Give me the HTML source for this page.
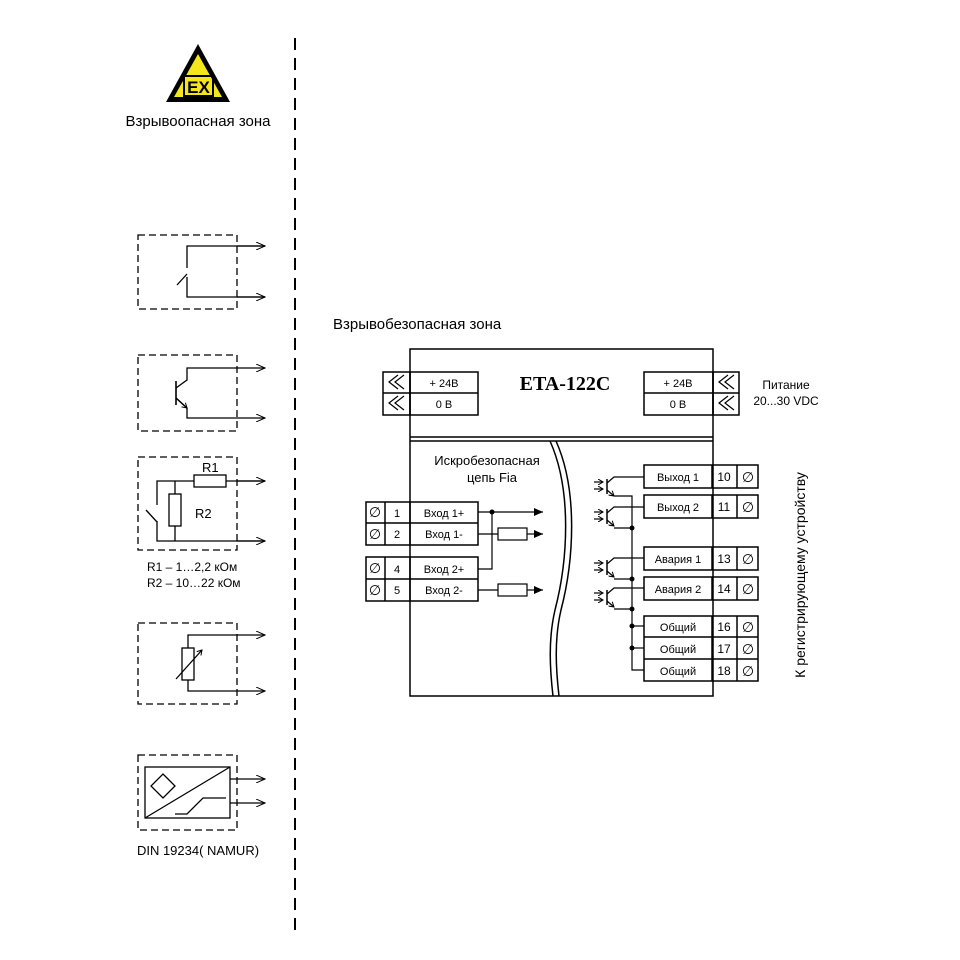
<!DOCTYPE html>
<html><head><meta charset="utf-8"><style>
html,body{margin:0;padding:0;background:#fff}
svg{display:block}
text{font-family:"Liberation Sans","DejaVu Sans",sans-serif;fill:#000}
</style></head><body>
<svg width="960" height="960" viewBox="0 0 960 960" xmlns="http://www.w3.org/2000/svg">
<defs>
<marker id="ar" markerWidth="10" markerHeight="8" refX="9" refY="4" orient="auto" markerUnits="userSpaceOnUse"><path d="M0,0 L9,4 L0,8" fill="none" stroke="#000" stroke-width="1"/></marker>
<marker id="af" markerWidth="10" markerHeight="8" refX="9" refY="4" orient="auto" markerUnits="userSpaceOnUse"><path d="M0,0 L9,4 L0,8z" fill="#000"/></marker>
<marker id="sa" markerWidth="6" markerHeight="6" refX="5" refY="3" orient="auto" markerUnits="userSpaceOnUse"><path d="M0,0 L5,3 L0,6" fill="none" stroke="#000" stroke-width="1"/></marker>
</defs>
<g stroke="#000" fill="none" stroke-width="1.3">
<line x1="295" y1="38" x2="295" y2="935" stroke-dasharray="12,8" stroke-width="2"/>
</g>
<polygon points="198,44 166,102 230,102" fill="#000"/>
<polygon points="198,54 174,97 222,97" fill="#f4e61a"/>
<rect x="184" y="76" width="29" height="20" fill="none" stroke="#000" stroke-width="2"/>
<text x="198.5" y="93" font-size="17" font-weight="bold" text-anchor="middle">EX</text>
<text x="198" y="126" font-size="15" text-anchor="middle">Взрывоопасная зона</text>

<g stroke="#000" fill="none" stroke-width="1.3">
<rect x="138" y="235" width="99" height="74" stroke-dasharray="7,4"/>
<path d="M265,246 H187 V268 M177,285 L187,274 M187,277 V297 H265" />
<line x1="237" y1="246" x2="265" y2="246" marker-end="url(#ar)"/>
<line x1="237" y1="297" x2="265" y2="297" marker-end="url(#ar)"/>
<rect x="138" y="355" width="99" height="76" stroke-dasharray="7,4"/>
<line x1="176" y1="381" x2="176" y2="405" stroke-width="1.6"/>
<path d="M176,388 L187,380 V368 H237 M176,398 L187,408 V418 H237"/>
<line x1="176" y1="398" x2="187" y2="408" marker-end="url(#sa)"/>
<line x1="237" y1="368" x2="265" y2="368" marker-end="url(#ar)"/>
<line x1="237" y1="418" x2="265" y2="418" marker-end="url(#ar)"/>
<rect x="138" y="457" width="99" height="93" stroke-dasharray="7,4"/>
<path d="M265,481 H226 M194,481 H157 V505 M146,510 L157,522 M157,521 V541 H265"/>
<rect x="194" y="475" width="32" height="12"/>
<rect x="169" y="494" width="12" height="32"/>
<line x1="175" y1="481" x2="175" y2="494"/><line x1="175" y1="526" x2="175" y2="541"/>
<line x1="237" y1="481" x2="265" y2="481" marker-end="url(#ar)"/>
<line x1="237" y1="541" x2="265" y2="541" marker-end="url(#ar)"/>
<rect x="138" y="623" width="99" height="81" stroke-dasharray="7,4"/>
<path d="M237,635 H188 V648 M188,680 V691 H237"/>
<rect x="182" y="648" width="12" height="32"/>
<line x1="176" y1="679" x2="202" y2="650" marker-end="url(#sa)"/>
<line x1="237" y1="635" x2="265" y2="635" marker-end="url(#ar)"/>
<line x1="237" y1="691" x2="265" y2="691" marker-end="url(#ar)"/>
<rect x="138" y="755" width="99" height="75" stroke-dasharray="7,4"/>
<rect x="145" y="767" width="85" height="51"/>
<line x1="145" y1="818" x2="230" y2="767"/>
<polygon points="163,774 175,786 163,798 151,786"/>
<path d="M175,814 H187 L203,798 H226"/>
<line x1="230" y1="779" x2="265" y2="779" marker-end="url(#ar)"/>
<line x1="230" y1="803" x2="265" y2="803" marker-end="url(#ar)"/>
</g>
<text x="147" y="571" font-size="12">R1 –  1…2,2 кОм</text>
<text x="147" y="587" font-size="12">R2 –  10…22 кОм</text>
<text x="202" y="472" font-size="13">R1</text>
<text x="195" y="518" font-size="13">R2</text>
<text x="198" y="855" font-size="13" text-anchor="middle">DIN 19234( NAMUR)</text>

<text x="333" y="329" font-size="15">Взрывобезопасная зона</text>

<g stroke="#000" fill="none" stroke-width="1.5">
<rect x="410" y="349" width="303" height="347"/>
<line x1="410" y1="437" x2="713" y2="437"/>
<line x1="410" y1="441" x2="713" y2="441"/>
<path d="M550,441 C572,490 568,560 555,610 C548,640 550,670 553,696"/>
<path d="M556,441 C578,490 574,560 561,610 C554,640 556,670 559,696"/>
<rect x="383" y="372" width="27" height="43"/><line x1="383" y1="393" x2="478" y2="393"/>
<rect x="410" y="372" width="68" height="43"/>
<rect x="644" y="372" width="69" height="43"/><line x1="644" y1="393" x2="739" y2="393"/>
<rect x="713" y="372" width="26" height="43"/>
</g>
<g fill="none" stroke="#000" stroke-width="1.2">
<path d="M398,375 L389,382 L398,389 M404,375 L395,382 L404,389"/>
<path d="M398,396 L389,403 L398,410 M404,396 L395,403 L404,410"/>
<path d="M728,375 L719,382 L728,389 M734,375 L725,382 L734,389"/>
<path d="M728,396 L719,403 L728,410 M734,396 L725,403 L734,410"/>
</g>
<text x="444" y="387" font-size="11" text-anchor="middle">+ 24B</text>
<text x="444" y="408" font-size="11" text-anchor="middle">0 B</text>
<text x="678" y="387" font-size="11" text-anchor="middle">+ 24B</text>
<text x="678" y="408" font-size="11" text-anchor="middle">0 B</text>
<text x="565" y="390" font-size="20" font-weight="bold" text-anchor="middle" style="font-family:'Liberation Serif',serif">ETA-122C</text>
<text x="786" y="389" font-size="12" text-anchor="middle">Питание</text>
<text x="786" y="405" font-size="12" text-anchor="middle">20...30 VDC</text>
<text x="487" y="465" font-size="13" text-anchor="middle">Искробезопасная</text>
<text x="492" y="482" font-size="13" text-anchor="middle">цепь Fia</text>

<g stroke="#000" fill="none" stroke-width="1.5">
<rect x="366" y="502" width="112" height="43"/><line x1="366" y1="523" x2="478" y2="523"/>
<line x1="385" y1="502" x2="385" y2="545"/><line x1="410" y1="502" x2="410" y2="545"/>
<rect x="366" y="557" width="112" height="44"/><line x1="366" y1="579" x2="478" y2="579"/>
<line x1="385" y1="557" x2="385" y2="601"/><line x1="410" y1="557" x2="410" y2="601"/>
</g>
<g stroke="#000" fill="none" stroke-width="1.2">
<line x1="478" y1="512" x2="543" y2="512" marker-end="url(#af)"/>
<path d="M492,512 V569 H478"/>
<line x1="478" y1="534" x2="498" y2="534"/><rect x="498" y="528" width="29" height="12"/><line x1="527" y1="534" x2="543" y2="534" marker-end="url(#af)"/>
<line x1="478" y1="590" x2="498" y2="590"/><rect x="498" y="584" width="29" height="12"/><line x1="527" y1="590" x2="543" y2="590" marker-end="url(#af)"/>
</g>
<circle cx="492" cy="512" r="2.5" fill="#000"/>
<g font-size="11" text-anchor="middle">
<text x="397" y="517">1</text><text x="444" y="517">Вход 1+</text>
<text x="397" y="538">2</text><text x="444" y="538">Вход 1-</text>
<text x="397" y="573">4</text><text x="444" y="573">Вход 2+</text>
<text x="397" y="594">5</text><text x="444" y="594">Вход 2-</text>
</g>
<g font-size="14" text-anchor="middle">
<text x="375" y="517">∅</text><text x="375" y="539">∅</text><text x="375" y="573">∅</text><text x="375" y="595">∅</text>
</g>

<g stroke="#000" fill="none" stroke-width="1.5">
<rect x="644" y="465" width="114" height="23"/><line x1="712" y1="465" x2="712" y2="488"/><line x1="737" y1="465" x2="737" y2="488"/>
<rect x="644" y="495" width="114" height="23"/><line x1="712" y1="495" x2="712" y2="518"/><line x1="737" y1="495" x2="737" y2="518"/>
<rect x="644" y="547" width="114" height="23"/><line x1="712" y1="547" x2="712" y2="570"/><line x1="737" y1="547" x2="737" y2="570"/>
<rect x="644" y="577" width="114" height="23"/><line x1="712" y1="577" x2="712" y2="600"/><line x1="737" y1="577" x2="737" y2="600"/>
<rect x="644" y="616" width="114" height="65"/><line x1="644" y1="637" x2="758" y2="637"/><line x1="644" y1="659" x2="758" y2="659"/>
<line x1="712" y1="616" x2="712" y2="681"/><line x1="737" y1="616" x2="737" y2="681"/>
</g>
<g font-size="11" text-anchor="middle">
<text x="678" y="481">Выход 1</text><text x="724" y="481" font-size="12">10</text>
<text x="678" y="511">Выход 2</text><text x="724" y="511" font-size="12">11</text>
<text x="678" y="563">Авария 1</text><text x="724" y="563" font-size="12">13</text>
<text x="678" y="593">Авария 2</text><text x="724" y="593" font-size="12">14</text>
<text x="678" y="631">Общий</text><text x="724" y="631" font-size="12">16</text>
<text x="678" y="653">Общий</text><text x="724" y="653" font-size="12">17</text>
<text x="678" y="675">Общий</text><text x="724" y="675" font-size="12">18</text>
</g>
<g font-size="14" text-anchor="middle">
<text x="748" y="482">∅</text><text x="748" y="512">∅</text><text x="748" y="564">∅</text><text x="748" y="594">∅</text>
<text x="748" y="632">∅</text><text x="748" y="654">∅</text><text x="748" y="676">∅</text>
</g>
<g stroke="#000" fill="none" stroke-width="1.2">
<g>
<line x1="607" y1="479" x2="607" y2="494" stroke-width="1.5"/>
<path d="M607,483 L614,477 H644"/>
<line x1="607" y1="490" x2="614" y2="496" marker-end="url(#sa)"/>
<line x1="594" y1="482" x2="603" y2="482" marker-end="url(#sa)"/>
<line x1="594" y1="489" x2="603" y2="489" marker-end="url(#sa)"/>
</g>
<path d="M614,496 H632 V670 H644"/>
<g transform="translate(0,30)"><line x1="607" y1="479" x2="607" y2="494" stroke-width="1.5"/><path d="M607,483 L614,477 H644"/><line x1="607" y1="490" x2="614" y2="496" marker-end="url(#sa)"/><line x1="594" y1="482" x2="603" y2="482" marker-end="url(#sa)"/><line x1="594" y1="489" x2="603" y2="489" marker-end="url(#sa)"/></g>
<line x1="614" y1="528" x2="632" y2="528"/>
<g transform="translate(0,81)"><line x1="607" y1="479" x2="607" y2="494" stroke-width="1.5"/><path d="M607,483 L614,477 H644"/><line x1="607" y1="490" x2="614" y2="496" marker-end="url(#sa)"/><line x1="594" y1="482" x2="603" y2="482" marker-end="url(#sa)"/><line x1="594" y1="489" x2="603" y2="489" marker-end="url(#sa)"/></g>
<line x1="614" y1="579" x2="632" y2="579"/>
<g transform="translate(0,111)"><line x1="607" y1="479" x2="607" y2="494" stroke-width="1.5"/><path d="M607,483 L614,477 H644"/><line x1="607" y1="490" x2="614" y2="496" marker-end="url(#sa)"/><line x1="594" y1="482" x2="603" y2="482" marker-end="url(#sa)"/><line x1="594" y1="489" x2="603" y2="489" marker-end="url(#sa)"/></g>
<line x1="614" y1="609" x2="632" y2="609"/>
<line x1="632" y1="626" x2="644" y2="626"/><line x1="632" y1="648" x2="644" y2="648"/>
</g>
<g fill="#000">
<circle cx="632" cy="528" r="2.5"/><circle cx="632" cy="579" r="2.5"/><circle cx="632" cy="609" r="2.5"/>
<circle cx="632" cy="626" r="2.5"/><circle cx="632" cy="648" r="2.5"/>
</g>
<text transform="translate(805,575) rotate(-90)" font-size="14" text-anchor="middle">К регистрирующему устройству</text>
</svg>
</body></html>
